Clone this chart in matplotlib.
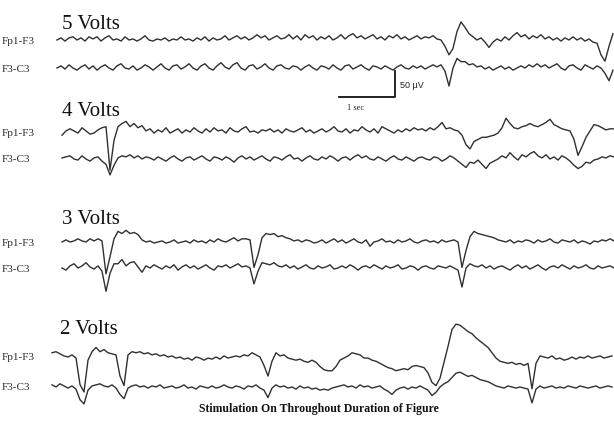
import numpy as np
import matplotlib
matplotlib.use("Agg")
import matplotlib.pyplot as plt

# ---------------- data (µV, positive = up), uniform sampling ----------------
SAMPLE_PERIOD_S = 1 / 14
panels = ["5 Volts", "4 Volts", "3 Volts", "2 Volts"]
channels = ["Fp1-F3", "F3-C3"]
caption = "Stimulation On Throughout Duration of Figure"
scale_bar_uv = 50
scale_bar_s = 1

fp1_f3_5v = [0, 4, -2, 4, 6, 0, 4, -2, 6, 2,
             6, -2, 4, 8, 0, 2, -2, 6, 0, 2,
             -2, 2, 8, 0, -2, 2, 0, 4, -2, 2,
             0, 6, 0, 2, -2, 4, 0, 6, -2, 4,
             0, 2, 8, 0, 4, 8, 2, 6, 0, 4,
             10, 4, 8, 0, 4, 8, 2, 4, 10, 2,
             8, 0, 10, 4, 8, 0, 6, 2, 8, 0,
             4, 10, 2, 8, 12, 4, 8, 2, 6, 10,
             2, 6, 0, 8, 4, 10, 2, 6, 0, 4,
             8, 2, 6, 4, 8, 2, 0, -12, -28, -16,
             16, 34, 24, 12, 6, 0, 4, -4, -14, -4,
             2, -2, 6, 0, 8, 14, 6, 10, 2, 8,
             4, 10, 2, 6, 0, 4, -2, 4, 0, 6,
             0, 4, -2, 2, -4, -6, -28, -40, -12, 12]
f3_c3_5v = [0, 4, -2, 6, 0, -4, 2, 6, -2, 4,
            -4, 2, 6, 0, -4, 4, 8, 0, -2, 4,
            -4, 0, 6, 2, -4, 2, 8, 0, -4, 4,
            6, -2, 2, 8, 0, -4, 4, 8, 0, -4,
            4, 10, 2, -2, 6, 10, 0, -4, 4, 6,
            -2, 2, 8, 0, -4, 4, 6, 0, -2, 4,
            2, -4, 2, 6, 0, -4, 4, 2, -2, 6,
            0, -4, 4, 6, -2, 2, 6, 0, -4, 4,
            2, -2, 4, 0, -4, 2, 6, 0, -2, 4,
            0, 4, -2, 2, 6, 2, 6, -6, -34, 0,
            18, 12, 12, 6, 8, 2, 4, -2, 2, -4,
            0, 4, -2, 2, -4, 0, 4, 0, 6, 2,
            8, 2, 6, 0, 4, 8, 0, -4, 4, 6,
            0, -4, 6, 2, -2, 4, 0, -10, -24, -4]

fp1_f3_4v = [-6, 2, 6, 2, -2, 8, 2, -4, -2, 4,
             8, 10, -72, -16, 10, 16, 20, 10, 16, 8,
             12, 2, 6, -2, 4, 0, 8, -2, 2, 6,
             -2, 4, 0, 8, 2, -2, 6, 0, 8, 2,
             4, -2, 8, 2, 0, 6, 10, 0, 2, -2,
             4, 2, 6, 0, 4, -2, 6, 2, 0, 4,
             8, 0, 4, -2, 2, 6, 0, 4, 10, 2,
             0, 6, -2, 4, 2, 10, 4, 0, 6, -2,
             10, 6, 2, -2, 4, 0, 6, 2, 8, 4,
             6, 2, 8, 4, 10, 18, 6, 8, 4, 2,
             -6, -24, -32, -18, -14, -10, -10, -8, -6, -2,
             8, 26, 16, 8, 6, 10, 12, 16, 12, 10,
             14, 18, 24, 14, 10, 6, 4, 2, -14, -44,
             -28, -10, 2, 14, 12, 8, 4, 6, 6]
f3_c3_4v = [2, 4, 6, 0, -2, 6, 0, -4, 2, 4,
            -4, -10, -30, -12, 2, 6, 4, 8, 2, 6,
            0, 4, 2, -2, 4, 0, -4, 2, 6, 0,
            -4, 2, 4, -2, 2, 6, 0, -4, 4, 2,
            -2, 4, 0, -6, 2, 6, 0, 4, -2, 2,
            6, 0, -4, 4, 2, -2, 4, 8, 0, 2,
            -4, 2, 6, 0, -2, 4, 0, 6, 2, -4,
            2, 4, -2, 4, 8, 2, 6, 0, -2, 4,
            0, -4, 2, 6, 0, -2, 4, 0, -4, 2,
            4, 0, -2, 4, 2, -4, 0, 6, 2, -4,
            -10, -16, -6, -8, -2, -10, -18, -8, -4, 0,
            6, 2, 12, 4, -2, 8, 4, 10, 14, 6,
            2, 8, 0, 4, -2, 6, 2, -4, -12, -18,
            -14, -6, -8, -2, 0, 4, 2, 6, 4]

fp1_f3_3v = [0, 4, 0, 2, 6, 2, 0, 6, 2, 6,
             2, -60, -28, 6, 20, 16, 22, 16, 18, 14,
             4, 0, 2, -2, 0, 2, -2, 0, 4, -2,
             0, 2, -2, 4, 0, 2, -2, 4, 0, 6,
             2, 0, 4, 8, 2, 6, 6, 4, -48, -24,
             8, 16, 14, 16, 10, 12, 8, 6, 2, 4,
             0, 4, 2, -2, 0, 4, -2, 2, 6, 0,
             4, -2, 2, 6, 0, -2, 4, -8, 0, 2,
             6, 0, 2, -2, 4, 0, 2, 6, 0, -2,
             2, 4, 0, 2, -2, 4, 0, 2, 4, 0,
             -48, -16, 10, 20, 16, 14, 12, 10, 8, 4,
             2, 0, 4, -2, 2, 0, 4, 2, -2, 4,
             0, 2, 6, 0, -2, 4, 2, 0, 4, -2,
             2, 0, -4, 2, 0, 4, 2, 6, 2]
f3_c3_3v = [0, -4, 4, 8, 0, 4, 10, 2, -2, 4,
            -6, -44, -10, 8, 8, 16, 4, 10, 12, 2,
            -8, 4, 0, 6, 2, -2, 4, 0, 6, -4,
            2, 6, 0, 4, -2, 2, 6, 0, -4, 4,
            2, 6, 0, 4, 8, 2, 4, 0, -30, -6,
            10, 8, 6, 10, 4, 2, 6, 0, 4, -2,
            2, 6, 0, -2, 4, 0, 2, 6, -2, 0,
            4, 0, 6, 2, -4, 2, 4, 0, 6, 2,
            -2, 4, 0, 2, 6, -2, 0, 4, 2, -4,
            2, 4, 0, -2, 4, 2, 0, 4, 0, -4,
            -36, 0, 8, 4, 2, 6, 0, 4, -2, 2,
            4, 0, -4, 2, 6, 0, 4, -2, 2, 6,
            0, -4, 2, 4, 0, 6, 2, -2, 4, 0,
            2, 6, 0, -2, 4, 0, 2, 4, 0]

fp1_f3_2v = [8, 10, 6, 2, 0, 4, -2, -52, -66, -6,
             10, 18, 10, 14, 8, 6, 4, -36, -54, 4,
             10, 8, 10, 6, 8, 4, 6, 2, 4, 0,
             2, -2, 0, -4, -2, -6, 0, -2, -6, -2,
             -4, 0, -4, 2, -2, 0, 2, 0, 4, 2,
             8, 4, 0, -16, -36, -8, 8, 2, 4, -2,
             -4, -6, -4, -8, -10, -6, -10, -18, -24, -26,
             -26, -18, -6, -2, 2, 8, 6, 4, -2, -2,
             -6, -8, -12, -16, -20, -22, -26, -24, -22, -24,
             -18, -16, -18, -20, -30, -48, -54, -40, -10, 20,
             52, 62, 60, 54, 48, 44, 36, 30, 24, 18,
             8, -2, -8, -10, -12, -10, -14, -12, -16, -12,
             -60, -12, 2, 0, -2, 2, -4, -2, -6, -4,
             0, -4, 0, -2, 2, -2, 0, 2, -2, 0, 2]
f3_c3_2v = [4, 0, 6, 2, -2, 2, -4, -24, -32, -6,
            2, 4, 6, 2, 0, 4, -2, -14, -22, -2,
            2, 4, 0, 2, -2, 2, 0, 4, -2, 0,
            2, -2, 0, 4, -2, 0, -4, 2, 0, -2,
            2, -2, 0, 4, 0, -2, 2, 0, -4, 2,
            0, 4, -2, -6, -20, -2, 4, 0, 2, -2,
            0, -4, 2, -2, 0, -4, -2, -6, -4, -6,
            -2, 0, 2, 4, 0, 2, -2, 4, 0, 2,
            -2, 0, 2, -4, -8, -14, -6, -2, 0, -4,
            0, -2, 2, -2, -6, -16, -10, 0, 6, 10,
            18, 26, 28, 24, 20, 22, 18, 14, 12, 10,
            6, 2, 0, -2, 2, 0, -2, 0, -2, -4,
            -30, -4, 2, -2, 0, 2, -2, 0, -2, 2,
            0, -2, 2, 0, -2, 0, 2, -2, 0, 2, 0]

traces = {
    "5 Volts": (fp1_f3_5v, f3_c3_5v),
    "4 Volts": (fp1_f3_4v, f3_c3_4v),
    "3 Volts": (fp1_f3_3v, f3_c3_3v),
    "2 Volts": (fp1_f3_2v, f3_c3_2v),
}

# ---------------- layout (pixels of a 614x421 canvas) ----------------
W, H = 614, 421
PX_PER_S = 56.0
PX_PER_UV = 0.53
# panel: (title_x, title_baseline, trace_x0, fp1_baseline, f3_baseline)
layout = {
    "5 Volts": (62, 29, 57, 40, 68),
    "4 Volts": (62, 116, 62, 132, 159),
    "3 Volts": (62, 224, 62, 242, 268),
    "2 Volts": (60, 334, 52, 357, 387),
}
TRACE_COLOR = "#303030"
SERIF = ["Liberation Serif", "DejaVu Serif"]

fig = plt.figure(figsize=(W / 100, H / 100), dpi=100)
ax = fig.add_axes([0, 0, 1, 1])
ax.set_xlim(0, W)
ax.set_ylim(H, 0)
ax.axis("off")

for name in panels:
    tx, ty, x0, yb1, yb2 = layout[name]
    ax.text(tx, ty, name, fontsize=15, family=SERIF, color="#111111",
            ha="left", va="baseline")
    for ch, vals, yb in zip(channels, traces[name], (yb1, yb2)):
        v = np.asarray(vals, dtype=float)
        t = np.arange(len(v)) * SAMPLE_PERIOD_S
        ax.plot(x0 + t * PX_PER_S, yb - v * PX_PER_UV, color=TRACE_COLOR,
                lw=1.0, solid_joinstyle="round", clip_on=True)
        ax.text(2, yb + 1, ch, fontsize=8, family=SERIF, color="#2a2a2a",
                ha="left", va="center")

# scale bar
bx, by = 395, 97
ax.plot([bx - scale_bar_s * PX_PER_S, bx, bx],
        [by, by, by - scale_bar_uv * PX_PER_UV], color="#111111", lw=1.3)
ax.text(bx + 5, 85, f"{scale_bar_uv} \u00b5V", fontsize=6.5,
        family=["Liberation Sans", "DejaVu Sans"], ha="left", va="center",
        color="#222222")
ax.text(bx - scale_bar_s * PX_PER_S + 8, 108, f"{scale_bar_s} sec", fontsize=6,
        family=SERIF, ha="left", va="center", color="#222222")

ax.text(319, 412, caption, fontsize=8.5, family=SERIF, weight="bold",
        ha="center", va="baseline", color="#111111")

fig.savefig("out.png", dpi=100, facecolor="white")
